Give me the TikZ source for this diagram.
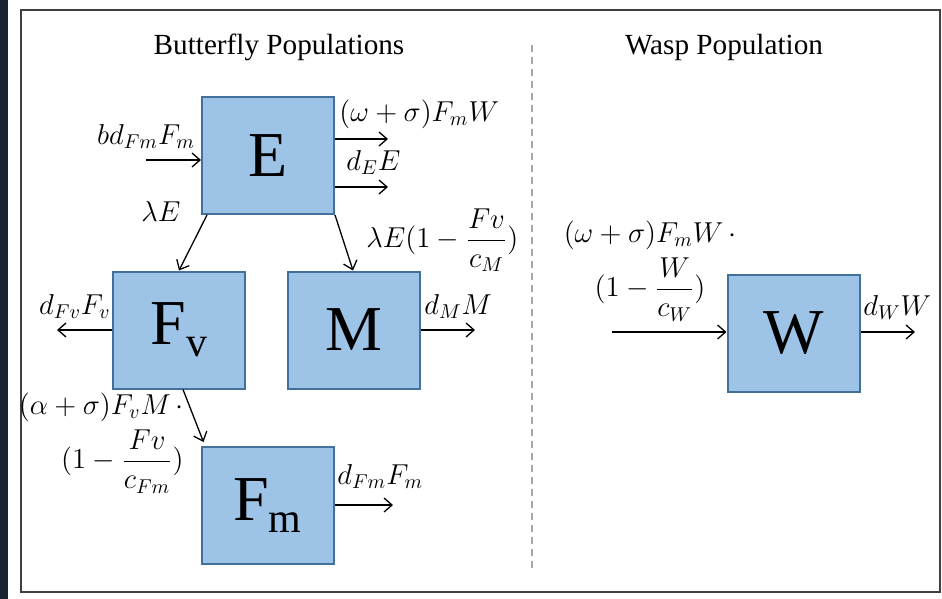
\documentclass[tikz,border=0pt]{standalone}
\usepackage{amsmath}
\usepackage{fontspec}
\newfontfamily\boxfont{Liberation Serif}
\usetikzlibrary{arrows.meta,positioning}
\definecolor{boxblue}{HTML}{9DC3E6}
\definecolor{boxedge}{HTML}{41719C}
\definecolor{framegray}{HTML}{404040}
\definecolor{darkbg}{HTML}{1B2230}
\definecolor{dashgray}{HTML}{A6A6A6}

\begin{document}
\begin{tikzpicture}[x=0.5pt, y=-0.5pt,
    every node/.style={inner sep=1pt},
    popbox/.style={draw=boxedge, line width=1pt, fill=boxblue,
        minimum width=66pt, minimum height=58.5pt, inner sep=0pt,
        font=\boxfont\fontsize{32}{32}\selectfont},
    flow/.style={-{Straight Barb[length=4pt,width=7pt]}, line width=0.65pt},
    rate/.style={font=\fontsize{14.4}{16}\selectfont},
    heading/.style={font=\boxfont\fontsize{14.6}{17}\selectfont}]
  \useasboundingbox (0,0) rectangle (942,599);
  % background and frame
  \fill[white] (0,0) rectangle (942,599);
  \fill[darkbg] (0,0) rectangle (8,599);
  \draw[framegray, line width=1pt] (20.5,10) rectangle (939.5,592);
  \draw[dashgray, line width=0.6pt, dash pattern=on 3.5pt off 2.5pt] (532,45) -- (532,570);
  % headings
  \node[heading] (bfly) at (279,47) {Butterfly Populations};
  \node[heading] (wasp) at (724,47) {Wasp Population};
  % compartments
  \node[popbox] (E) at (268,155.5) {E};
  \node[popbox] (Fv) at (179,330) {F\raisebox{-6pt}{\fontsize{21}{21}\selectfont v}};
  \node[popbox] (M) at (354,330) {M};
  \node[popbox] (Fm) at (267.5,505.5) {F\raisebox{-6pt}{\fontsize{21}{21}\selectfont m}};
  \node[popbox] (W) at (793.5,333.5) {W};
  % eggs in and out
  \coordinate (eggin) at (146,160);
  \draw[flow] (eggin) -- (eggin -| E.west);
  \node[rate, anchor=south] (eggrate) at (146,151) {$bd_{Fm}F_m$};
  \coordinate (eggpar) at (388,139);
  \draw[flow] (eggpar -| E.east) -- (eggpar);
  \node[rate, anchor=south west] (parrate) at (337,131) {$(\omega+\sigma)F_mW$};
  \coordinate (eggdie) at (388,187);
  \draw[flow] (eggdie -| E.east) -- (eggdie);
  \node[rate, anchor=south west] (edierate) at (344,177) {$d_EE$};
  % hatching
  \draw[flow] ([xshift=3pt]E.south west) -- (Fv.north);
  \node[rate] (virgrate) at (161,211) {$\lambda E$};
  \draw[flow] (E.south east) -- ([xshift=-0.5pt]M.north);
  \node[rate, anchor=west] (malerate) at (364,240) {$\lambda E(1-\dfrac{Fv}{c_M})$};
  % deaths of F_v and M
  \coordinate (virgdie) at (57,330);
  \draw[flow] (virgdie -| Fv.west) -- (virgdie);
  \node[rate, anchor=south east] (vdierate) at (113,321) {$d_{Fv}F_v$};
  \coordinate (maledie) at (475,330);
  \draw[flow] (maledie -| M.east) -- (maledie);
  \node[rate, anchor=south west] (mdierate) at (422,321) {$d_MM$};
  % mating
  \draw[flow] ([xshift=2pt]Fv.south) -- ([xshift=1.5pt,yshift=2pt]Fm.north west);
  \node[rate, align=right, anchor=east] (materate) at (186,443)
      {$(\alpha+\sigma)F_vM\,\cdot$\\[3pt]$(1-\dfrac{Fv}{c_{Fm}})$};
  \coordinate (matedie) at (393,505);
  \draw[flow] (matedie -| Fm.east) -- (matedie);
  \node[rate, anchor=south west] (fmdierate) at (335,491) {$d_{Fm}F_m$};
  % wasps
  \coordinate (waspin) at (612,332);
  \draw[flow] (waspin) -- (waspin -| W.west);
  \node[rate, align=center] (wasprate) at (650,271)
      {$(\omega+\sigma)F_mW\,\cdot$\\[3pt]$(1-\dfrac{W}{c_W})$};
  \coordinate (waspdie) at (915,332);
  \draw[flow] (waspdie -| W.east) -- (waspdie);
  \node[rate, anchor=south west] (wdierate) at (861,322) {$d_WW$};
\end{tikzpicture}
\end{document}
